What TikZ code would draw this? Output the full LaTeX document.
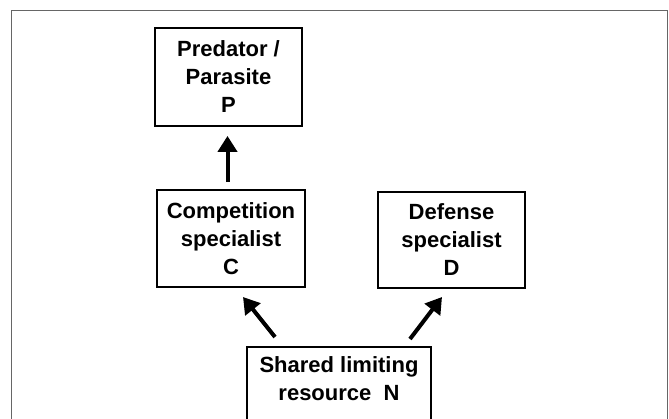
\documentclass[tikz,border=0pt]{standalone}
\usepackage{fontspec}
\setmainfont{Liberation Sans}
\usetikzlibrary{arrows.meta,calc}
\begin{document}
\begin{tikzpicture}[x=1pt,y=1pt,
  box/.style={draw=black,line width=1.8pt,align=center,inner sep=0pt,
    font=\fontsize{22}{28}\selectfont\bfseries},
  arr/.style={line width=4pt,-{Triangle[length=16pt,width=19pt]}}]
\useasboundingbox (0,0) rectangle (669,-418);
\fill[white] (0,0) rectangle (669,-418);
\draw[line width=1.6pt,gray!80!black] (11.5,-420) -- (11.5,-10.5) -- (667.5,-10.5) -- (667.5,-420);
\node[box,minimum width=147pt,minimum height=98pt] (P) at (228.5,-77) {Predator /\\Parasite\\P};
\node[box,minimum width=148pt,minimum height=97pt] (C) at (231,-238.5) {Competition\\specialist\\C};
\node[box,minimum width=147pt,minimum height=96pt] (D) at (451.5,-240) {Defense\\specialist\\D};
\node[box,minimum width=184pt,minimum height=100pt] (N) at (339,-397) {Shared limiting\\resource~~N\\\strut};
\coordinate (nl) at (275,-337);
\coordinate (nr) at (410,-339);
\draw[arr] ($(C.north -| 227.5,0)+(0,7)$) -- ($(P.south -| 227.5,0)+(0,-9)$);
\draw[arr] (nl) -- (243,-297);
\draw[arr] (nr) -- (442,-297);
\end{tikzpicture}
\end{document}
